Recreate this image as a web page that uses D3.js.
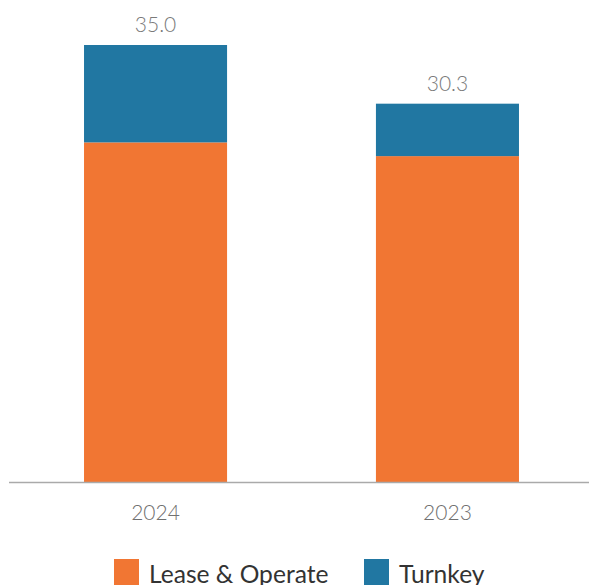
<!DOCTYPE html>
<html>
<head>
<meta charset="utf-8">
<script src="https://cdn.jsdelivr.net/npm/d3@7"></script>
<style>
  html, body { margin: 0; padding: 0; background: #fff; }
  svg { display: block; font-family: Lato, "Open Sans", sans-serif; }
</style>
</head>
<body>
<svg id="chart" width="589" height="585"></svg>
<script>
// Data
const years = ["2024", "2023"];
const leaseOperate = [27.2, 26.1];
const turnkey = [7.8, 4.2];
const totals = ["35.0", "30.3"];
const seriesNames = ["Lease & Operate", "Turnkey"];
const seriesColors = ["#F17633", "#2177A2"];

const svg = d3.select("#chart");
const baseline = 482;

const x = d3.scaleBand()
    .domain(years)
    .range([9, 594])
    .paddingInner(0.51)
    .paddingOuter(0.257);

const y = d3.scaleLinear()
    .domain([0, 35])
    .range([baseline, 45]);

const rows = years.map((yr, i) => ({ year: yr, lease: leaseOperate[i], turnkey: turnkey[i], label: totals[i] }));
const stacked = d3.stack().keys(["lease", "turnkey"])(rows);

svg.append("g")
  .selectAll("g")
  .data(stacked)
  .join("g")
    .attr("fill", (d, i) => seriesColors[i])
  .selectAll("rect")
  .data(d => d)
  .join("rect")
    .attr("x", d => x(d.data.year))
    .attr("width", x.bandwidth())
    .attr("y", d => y(d[1]))
    .attr("height", d => y(d[0]) - y(d[1]));

// Total labels
svg.append("g")
  .selectAll("text")
  .data(rows)
  .join("text")
    .attr("x", d => x(d.year) + x.bandwidth() / 2)
    .attr("y", d => y(d.lease + d.turnkey) - 13)
    .attr("text-anchor", "middle")
    .attr("fill", "#7a7a7a")
    .style("font-size", "21px")
    .style("font-weight", 300)
    .text(d => d.label);

// Axis
const xAxis = svg.append("g")
    .attr("transform", `translate(0,${baseline})`)
    .call(d3.axisBottom(x).tickSize(0).tickPadding(23));
xAxis.select(".domain").attr("stroke", "#aaaaaa").attr("stroke-width", 1.6)
    .attr("d", "M9,0.5H589");
xAxis.selectAll("text")
    .attr("fill", "#707070")
    .style("font-size", "21px")
    .style("font-weight", 300)
    .style("font-family", "Lato, sans-serif");

// Legend
const legendX = [114, 364];
const legend = svg.append("g")
  .selectAll("g")
  .data(seriesNames)
  .join("g")
    .attr("transform", (d, i) => `translate(${legendX[i]},559)`);
legend.append("rect")
    .attr("width", 25)
    .attr("height", 26)
    .attr("fill", (d, i) => seriesColors[i]);
legend.append("text")
    .attr("x", 35)
    .attr("y", 24)
    .attr("fill", "#333333")
    .style("font-size", "24.6px")
    .text(d => d);
</script>
</body>
</html>
